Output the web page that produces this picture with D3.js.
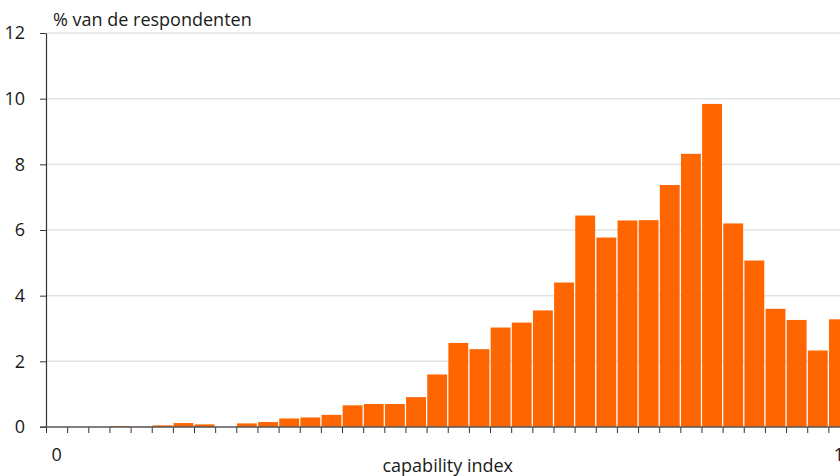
<!DOCTYPE html>
<html>
<head>
<meta charset="utf-8">
<script src="https://cdn.jsdelivr.net/npm/d3@7/dist/d3.min.js"></script>
<style>
  html, body { margin: 0; padding: 0; background: #fff; }
  svg { display: block; overflow: hidden; }
  text { font-family: "Open Sans", "Noto Sans", sans-serif; fill: #1a1a1a; }
</style>
</head>
<body>
<svg id="chart" width="840" height="476"></svg>
<script>
// ---- data ----
const categories = d3.range(38); // capability index bins from 0 to 1
const tickLabels = categories.map((d, i) => i === 0 ? "0" : (i === categories.length - 1 ? "1" : ""));
const values = [0, 0, 0, 0.03, 0.01, 0.05, 0.12, 0.08, 0, 0.11,
                0.15, 0.26, 0.29, 0.37, 0.66, 0.70, 0.70, 0.91, 1.60, 2.56,
                2.37, 3.03, 3.18, 3.55, 4.40, 6.44, 5.77, 6.29, 6.30, 7.37,
                8.32, 9.84, 6.20, 5.07, 3.60, 3.26, 2.33, 3.28];
const yTicks = [0, 2, 4, 6, 8, 10, 12];
const yTitle = "% van de respondenten";
const xTitle = "capability index";

// ---- layout ----
const mLeft = 46, mRight = 849.5, mTop = 33, mBottom = 427;
const svg = d3.select("#chart");

const x = d3.scaleBand().domain(categories).range([mLeft, mRight]).paddingInner(0.06).paddingOuter(0.03);
const xEdge = d3.scaleLinear().domain([0, categories.length]).range([mLeft, mRight]);
const y = d3.scaleLinear().domain([0, 12]).range([mBottom, mTop]);

// gridlines
svg.append("g").selectAll("line").data(yTicks.filter(d => d > 0)).join("line")
  .attr("x1", mLeft).attr("x2", 840)
  .attr("y1", d => y(d)).attr("y2", d => y(d))
  .attr("stroke", "#e3e3e3").attr("stroke-width", 1.5);

// bars
svg.append("g").selectAll("rect").data(values).join("rect")
  .attr("x", (d, i) => x(categories[i]))
  .attr("width", x.bandwidth())
  .attr("y", d => y(d))
  .attr("height", d => y(0) - y(d))
  .attr("fill", "#ff6600");

// y axis
const yAxis = svg.append("g").attr("transform", `translate(${mLeft},0)`)
  .call(d3.axisLeft(y).tickValues(yTicks).tickSize(6).tickSizeOuter(0).tickPadding(15));
yAxis.select(".domain").attr("stroke", "#333").attr("stroke-width", 1.2);
yAxis.selectAll(".tick line").attr("stroke", "#333");
yAxis.selectAll("text").style("font-size", "18px").attr("fill", "#1a1a1a");

// x axis edge ticks
const xEdgeAxis = svg.append("g").attr("transform", `translate(0,${mBottom})`)
  .call(d3.axisBottom(xEdge).tickValues(d3.range(0, categories.length + 1)).tickFormat("").tickSize(6).tickSizeOuter(0));
xEdgeAxis.select(".domain").remove();
xEdgeAxis.selectAll(".tick line").attr("stroke", "#333");

// baseline
svg.append("line").attr("x1", mLeft - 6).attr("x2", 840).attr("y1", mBottom).attr("y2", mBottom)
  .attr("stroke", "#555").attr("stroke-width", 1.5);

// x category labels
const xAxis = svg.append("g").attr("transform", `translate(0,${mBottom})`)
  .call(d3.axisBottom(x).tickFormat((d, i) => tickLabels[i]).tickSize(0).tickPadding(21));
xAxis.select(".domain").remove();
xAxis.selectAll("text").style("font-size", "18px").attr("fill", "#1a1a1a");

// titles
svg.append("text").attr("x", 53).attr("y", 25.5).style("font-size", "18px").text(yTitle);
svg.append("text").attr("x", (mLeft + mRight) / 2).attr("y", 471.5).attr("text-anchor", "middle")
  .style("font-size", "18px").text(xTitle);
</script>
</body>
</html>
